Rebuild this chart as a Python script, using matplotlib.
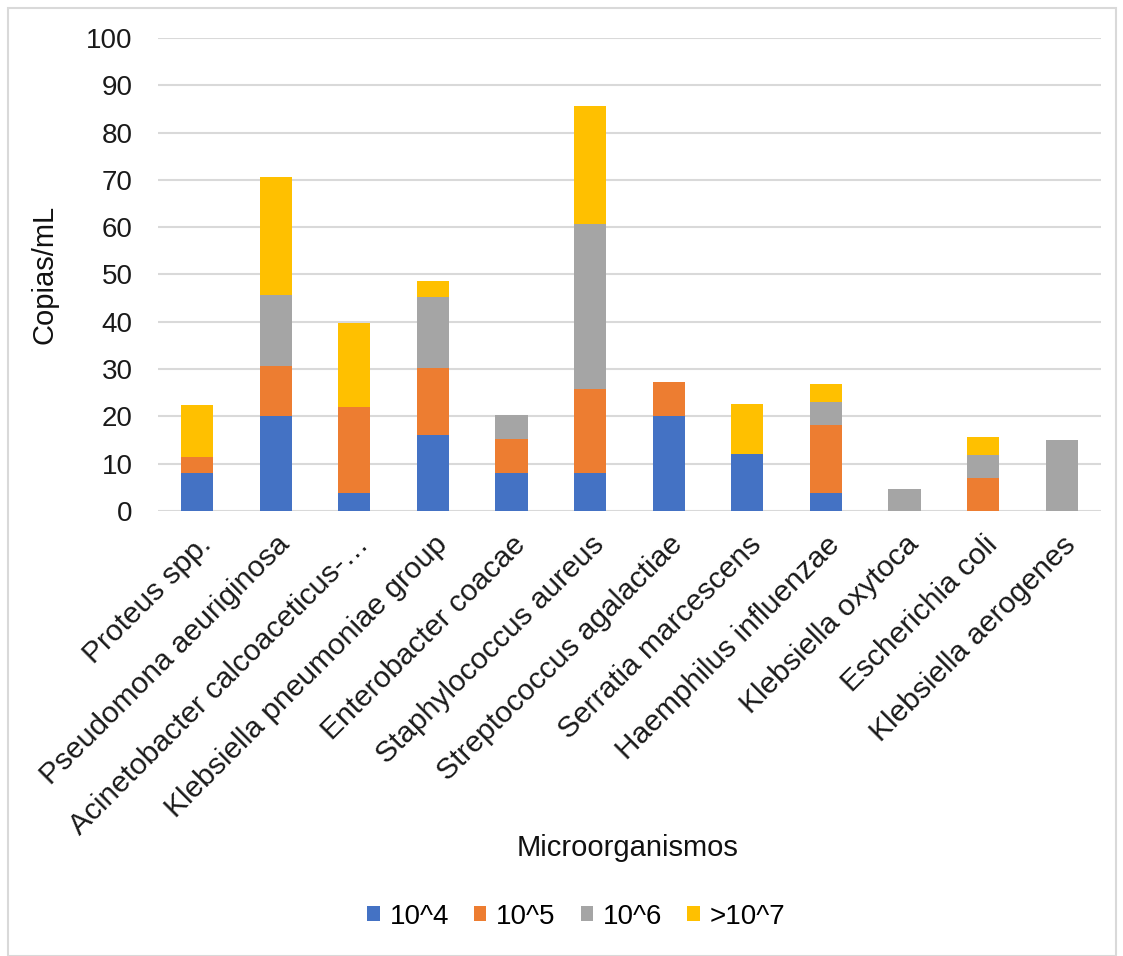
import matplotlib
matplotlib.use("Agg")
import matplotlib.pyplot as plt
from matplotlib.patches import Rectangle, Patch
import numpy as np

plt.rcParams['font.family'] = ['Liberation Sans', 'DejaVu Sans']

categories = [
    "Proteus spp.",
    "Pseudomona aeuriginosa",
    "Acinetobacter calcoaceticus-…",
    "Klebsiella pneumoniae group",
    "Enterobacter coacae",
    "Staphylococcus aureus",
    "Streptococcus agalactiae",
    "Serratia marcescens",
    "Haemphilus influenzae",
    "Klebsiella oxytoca",
    "Escherichia coli",
    "Klebsiella aerogenes",
]

e4 = [8, 20, 3.7, 16, 8, 8, 20, 12, 3.8, 0, 0, 0]
e5 = [3.4, 10.7, 18.3, 14.2, 7.2, 17.7, 7.2, 0, 14.3, 0, 7, 0]
e6 = [0, 15, 0, 15, 5, 35, 0, 0, 5, 4.7, 4.9, 15]
e7 = [10.9, 25, 17.8, 3.5, 0, 25, 0, 10.7, 3.7, 0, 3.7, 0]

series_labels = ["10^4", "10^5", "10^6", ">10^7"]
colors = ["#4472C4", "#ED7D31", "#A5A5A5", "#FFC000"]
yticks = [0, 10, 20, 30, 40, 50, 60, 70, 80, 90, 100]

fig = plt.figure(figsize=(11.23, 9.56), dpi=100)
fig.patches.append(Rectangle((0.007, 0.0), 0.987, 0.992, transform=fig.transFigure,
                             fill=False, edgecolor="#D9D9D9", linewidth=1.5))

ax = fig.add_axes([0.1405, 0.4655, 0.84, 0.4948])
x = np.arange(len(categories))
bottom = np.zeros(len(categories))
for vals, c in zip([e4, e5, e6, e7], colors):
    v = np.array(vals, dtype=float)
    ax.bar(x, v, bottom=bottom, width=0.41, color=c, zorder=3)
    bottom += v

ax.set_xlim(-0.5, len(categories) - 0.5)
ax.set_ylim(0, 100)
ax.set_yticks(yticks)
ax.set_yticklabels([str(t) for t in yticks], fontsize=20, color="#1a1a1a")
ax.yaxis.grid(True, color="#D9D9D9", linewidth=1.5, zorder=0)
ax.tick_params(axis="both", length=0, pad=18)
for s in ax.spines.values():
    s.set_visible(False)

ax.set_xticks(x)
ax.set_xticklabels(categories, rotation=45, ha="right", rotation_mode="anchor",
                   fontsize=21.5, color="#1a1a1a")
ax.tick_params(axis="x", pad=14)

ax.set_ylabel("Copias/mL", fontsize=21, color="#111111", labelpad=20)
fig.text(0.559, 0.113, "Microorganismos", ha="center", va="center", fontsize=21, color="#111111")

handles = [Patch(facecolor=c, edgecolor="none") for c in colors]
fig.legend(handles, series_labels, loc="center", bbox_to_anchor=(0.513, 0.041), ncol=4,
           frameon=False, fontsize=20, handlelength=0.45, handleheight=0.45,
           handletextpad=0.35, columnspacing=0.9)

fig.savefig("out.png", dpi=100, facecolor="white")
